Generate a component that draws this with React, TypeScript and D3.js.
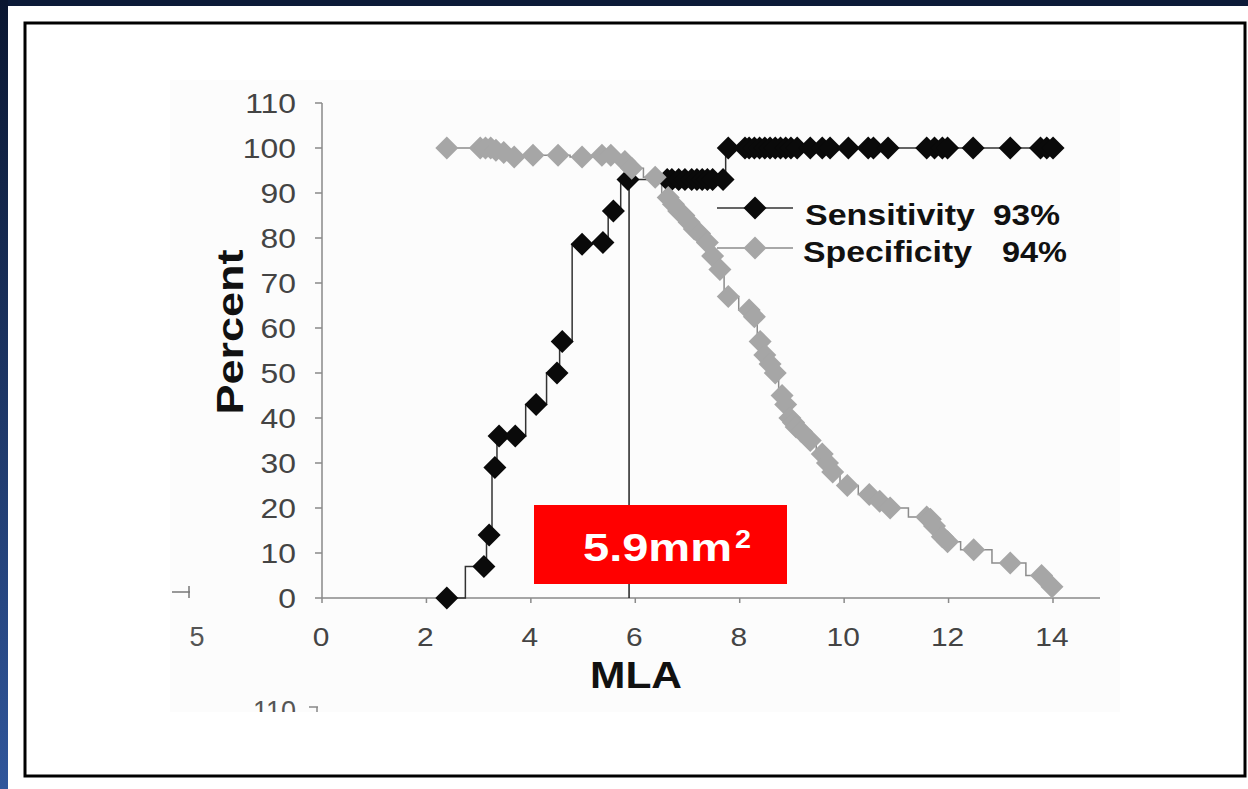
import React from "react";
import * as d3 from "d3";

// ---- data ----
const sensitivityX = [2.41, 3.12, 3.22, 3.33, 3.41, 3.72, 4.12, 4.52, 4.62, 5.0, 5.4, 5.6, 5.88,
  6.63, 6.72, 6.85, 6.97, 7.1, 7.2, 7.3, 7.4, 7.5, 7.7,
  7.8, 8.12, 8.2, 8.3, 8.4, 8.5, 8.6, 8.7, 8.8, 8.9, 9.0, 9.12, 9.37, 9.6, 9.75, 10.1, 10.48, 10.58, 10.86,
  11.6, 11.75, 11.9, 12.0, 12.49, 13.2, 13.78, 13.9, 14.02];
const sensitivityY = [0, 7, 14, 29, 36, 36, 43, 50, 57, 78.6, 79, 86, 93,
  93, 93, 93, 93, 93, 93, 93, 93, 93, 93,
  100, 100, 100, 100, 100, 100, 100, 100, 100, 100, 100, 100, 100, 100, 100, 100, 100, 100, 100,
  100, 100, 100, 100, 100, 100, 100, 100, 100];

const specificityX = [2.41, 3.05, 3.15, 3.25, 3.35, 3.5, 3.7, 4.06, 4.54, 5.0, 5.38, 5.55, 5.82, 5.95,
  6.4, 6.65, 6.75, 6.85, 6.95, 7.05, 7.15, 7.25, 7.4, 7.5, 7.64, 7.8, 8.2, 8.3, 8.41, 8.5, 8.6, 8.7, 8.83, 8.9,
  8.98, 9.05, 9.1, 9.2, 9.37, 9.6, 9.7, 9.8, 10.08, 10.5, 10.7, 10.9, 11.6, 11.67, 11.75, 11.9, 12.0, 12.5, 13.2, 13.8, 14.0];
const specificityY = [100, 100, 100, 100, 99.5, 99, 98, 98.4, 98.4, 98, 98.4, 98.4, 97, 95.5,
  93.5, 89, 87.5, 86, 85, 83.5, 82, 81, 79, 76, 73, 67, 64, 62.5, 57, 54, 52, 50, 45, 43,
  40, 39, 38, 37, 35, 32, 30, 28, 25, 23, 21.5, 20, 18, 17.5, 16, 13.6, 12.5, 10.7, 7.8, 5, 2.5];

const xTicks = [0, 2, 4, 6, 8, 10, 12, 14];
const yTicks = [0, 10, 20, 30, 40, 50, 60, 70, 80, 90, 100, 110];
const cutoffValue = 5.9;
const cutoffSensitivity = 93;
const legendLabels = ["Sensitivity", "Specificity"];
const legendValues = ["93%", "94%"];

export default function App() {
  const x = d3.scaleLinear().domain([0, 14]).range([321, 1052]);
  const y = d3.scaleLinear().domain([0, 110]).range([598, 103]);

  const sens = sensitivityX.map((v, i) => [v, sensitivityY[i]] as [number, number]);
  const spec = specificityX.map((v, i) => [v, specificityY[i]] as [number, number]);

  const line = d3
    .line<[number, number]>()
    .x((d) => x(d[0]))
    .y((d) => y(d[1]))
    .curve(d3.curveStep);

  const diamond = d3.symbol().type(d3.symbolSquare).size(265)() as string;
  const black = "#0a0a0a";
  const gray = "#a6a6a6";
  const font = "'Liberation Sans', Arial, sans-serif";

  return (
    <svg
      width={1248}
      height={789}
      style={{ position: "absolute", left: 0, top: 0 }}
    >
      <defs>
        <linearGradient id="leftStrip" x1="0" y1="0" x2="0" y2="1">
          <stop offset="0" stopColor="#0a1630" />
          <stop offset="1" stopColor="#30569b" />
        </linearGradient>
        <clipPath id="cutBottom">
          <rect x={0} y={0} width={1248} height={712} />
        </clipPath>
      </defs>
      <rect x={0} y={0} width={1248} height={789} fill="#0c1a38" />
      <rect x={0} y={0} width={8} height={789} fill="url(#leftStrip)" />
      <rect x={8} y={6} width={1240} height={783} fill="#ffffff" />
      <rect x={25} y={23} width={1220} height={753} fill="none" stroke="#000" strokeWidth={3} />

      {/* faint scanned chart area */}
      <rect x={170} y={80} width={950} height={632} fill="#fcfcfc" />

      {/* artifacts from neighbouring cropped chart */}
      <g fill="#555" fontFamily={font} fontSize={27}>
        <text x={197} y={646} textAnchor="middle">5</text>
        <text x={296} y={720} textAnchor="end" clipPath="url(#cutBottom)">110</text>
      </g>
      <line x1={172} y1={592} x2={190} y2={592} stroke="#777" strokeWidth={1.5} />
      <line x1={189} y1={586} x2={189} y2={598} stroke="#777" strokeWidth={1.5} />
      <line x1={309} y1={707} x2={318} y2={707} stroke="#888" strokeWidth={1.5} />
      <line x1={317} y1={707} x2={317} y2={712} stroke="#888" strokeWidth={1.5} />

      {/* axes */}
      <line x1={x(0) + 1} y1={y(110)} x2={x(0) + 1} y2={y(0)} stroke="#8a8a8a" strokeWidth={1.5} />
      <line x1={x(0) + 1} y1={y(0)} x2={1100} y2={y(0)} stroke="#8a8a8a" strokeWidth={1.5} />
      {yTicks.map((t) => (
        <g key={"y" + t}>
          <line x1={x(0) - 6} x2={x(0) + 1} y1={y(t)} y2={y(t)} stroke="#8a8a8a" strokeWidth={1.5} />
          <text
            x={296}
            y={y(t) + 10}
            textAnchor="end"
            fontFamily={font}
            fontSize={27}
            fill="#444"
            transform={`translate(296,0) scale(1.18,1) translate(-296,0)`}
          >
            {t}
          </text>
        </g>
      ))}
      {xTicks.map((t) => (
        <g key={"x" + t}>
          <line x1={x(t) + 1} x2={x(t) + 1} y1={y(0)} y2={y(0) + 5} stroke="#8a8a8a" strokeWidth={1.5} />
          <text
            x={x(t)}
            y={646}
            textAnchor="middle"
            fontFamily={font}
            fontSize={26}
            fill="#444"
            transform={`translate(${x(t)},0) scale(1.15,1) translate(${-x(t)},0)`}
          >
            {t}
          </text>
        </g>
      ))}

      <text x={636} y={688} textAnchor="middle" fontFamily={font} fontWeight="bold" fontSize={36}
        fill="#111" textLength={92} lengthAdjust="spacingAndGlyphs">
        MLA
      </text>
      <text transform="translate(243,332) rotate(-90)" textAnchor="middle" fontFamily={font}
        fontWeight="bold" fontSize={37} fill="#111" textLength={165} lengthAdjust="spacingAndGlyphs">
        Percent
      </text>

      {/* lines */}
      <path d={line(sens) as string} fill="none" stroke="#333" strokeWidth={1.5} />
      <path d={line(spec) as string} fill="none" stroke="#8c8c8c" strokeWidth={1.5} />
      <line x1={x(cutoffValue)} x2={x(cutoffValue)} y1={y(0)} y2={y(cutoffSensitivity)} stroke="#222" strokeWidth={1.5} />

      {/* markers */}
      {sens.map((d, i) => (
        <path key={"s" + i} d={diamond} fill={black}
          transform={`translate(${x(d[0])},${y(d[1])}) rotate(45)`} />
      ))}
      {spec.map((d, i) => (
        <path key={"p" + i} d={diamond} fill={gray}
          transform={`translate(${x(d[0])},${y(d[1])}) rotate(45)`} />
      ))}

      {/* legend */}
      <line x1={717} x2={793} y1={208} y2={208} stroke="#333" strokeWidth={1.5} />
      <path d={diamond} fill={black} transform="translate(755,208) rotate(45)" />
      <line x1={717} x2={793} y1={248} y2={248} stroke="#8c8c8c" strokeWidth={1.5} />
      <path d={diamond} fill={gray} transform="translate(755,248) rotate(45)" />
      <g fontFamily={font} fontWeight="bold" fontSize={29} fill="#111">
        <text x={805} y={225} textLength={170} lengthAdjust="spacingAndGlyphs">{legendLabels[0]}</text>
        <text x={993} y={225} textLength={67} lengthAdjust="spacingAndGlyphs">{legendValues[0]}</text>
        <text x={803} y={262} textLength={169} lengthAdjust="spacingAndGlyphs">{legendLabels[1]}</text>
        <text x={1002} y={262} textLength={65} lengthAdjust="spacingAndGlyphs">{legendValues[1]}</text>
      </g>

      {/* cutoff annotation */}
      <rect x={534} y={505} width={253} height={79} fill="#ff0000" />
      <text x={583} y={561} fontFamily={font} fontWeight="bold" fontSize={39} fill="#fff"
        textLength={149} lengthAdjust="spacingAndGlyphs">
        5.9mm
      </text>
      <text x={735} y={548} fontFamily={font} fontWeight="bold" fontSize={25} fill="#fff"
        textLength={16} lengthAdjust="spacingAndGlyphs">
        2
      </text>
    </svg>
  );
}
